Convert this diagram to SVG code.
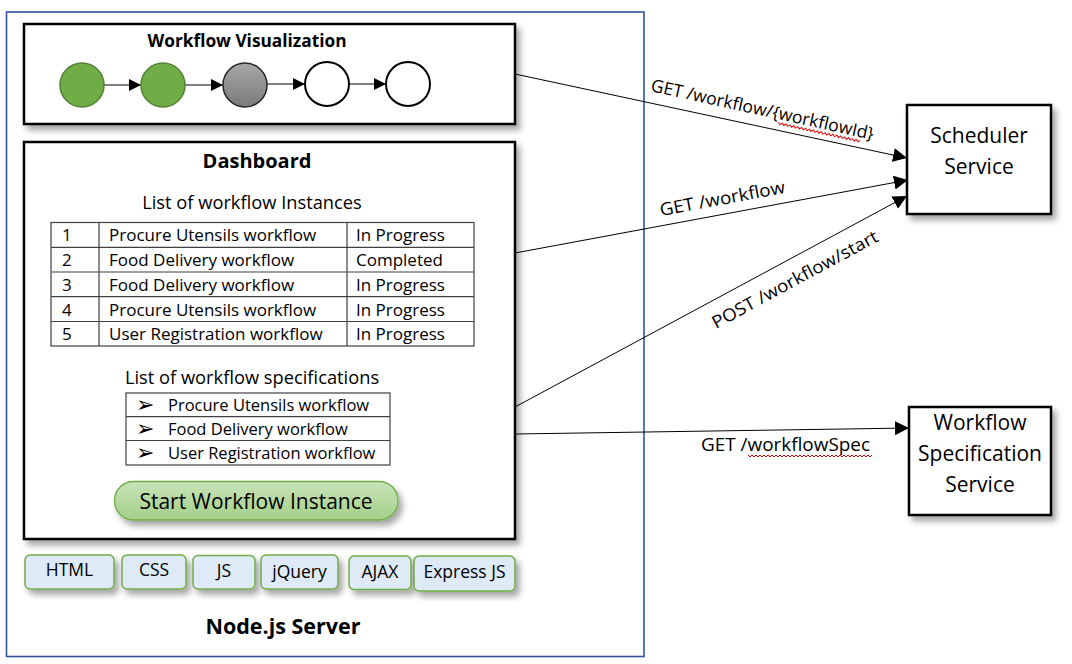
<svg xmlns="http://www.w3.org/2000/svg" width="1072" height="664" viewBox="0 0 1072 664">
<style>
text{font-family:"Open Sans","Liberation Sans",sans-serif;fill:#000}
.b{font-weight:bold}
.box{fill:#fff;stroke:#000;stroke-width:2.5}
.tbl{fill:none;stroke:#404040;stroke-width:1.2}
.t16{font-size:17px}
.lbl{font-size:17.5px}
.tech{fill:#DEEBF7;stroke:#70AD47;stroke-width:1.5}
.conn{stroke:#000;stroke-width:1;fill:none}
.wave{fill:none;stroke:#E00000;stroke-width:1}
.bul{font-family:"DejaVu Sans",sans-serif;font-size:22px}
</style>
<defs>
<filter id="sh" x="-10%" y="-10%" width="130%" height="140%">
<feDropShadow dx="4" dy="5" stdDeviation="3" flood-color="#000" flood-opacity="0.35"/>
</filter>
<linearGradient id="grey" x1="0" y1="0" x2="0" y2="1">
<stop offset="0" stop-color="#A8A8A8"/><stop offset="1" stop-color="#7A7A7A"/>
</linearGradient>
<linearGradient id="btn" x1="0" y1="0" x2="0" y2="1">
<stop offset="0" stop-color="#C9E3B8"/><stop offset="1" stop-color="#A3CF88"/>
</linearGradient>
<marker id="ah" viewBox="0 0 10 10" refX="10" refY="5" markerWidth="14" markerHeight="14" markerUnits="userSpaceOnUse" orient="auto">
<path d="M0,0 L10,5 L0,10 z" fill="#000"/>
</marker>
<marker id="ahs" viewBox="0 0 10 10" refX="10" refY="5" markerWidth="12" markerHeight="12" markerUnits="userSpaceOnUse" orient="auto">
<path d="M0,0 L10,5 L0,10 z" fill="#000"/>
</marker>
</defs>
<rect width="1072" height="664" fill="#fff"/>

<g id="nodejs-server">
<rect x="6.5" y="12" width="637.5" height="644.5" fill="none" stroke="#2F5597" stroke-width="1.6"/>
<text x="283" y="634" text-anchor="middle" class="b" font-size="21.5">Node.js Server</text>
</g>

<g id="workflow-visualization">
<rect class="box" x="24" y="24" width="491" height="100" filter="url(#sh)"/>
<text x="247" y="47" text-anchor="middle" class="b" font-size="17.3">Workflow Visualization</text>
<g stroke="#000" stroke-width="1">
<line x1="104" y1="85" x2="141" y2="85" marker-end="url(#ahs)"/>
<line x1="185" y1="85" x2="223" y2="85" marker-end="url(#ahs)"/>
<line x1="267" y1="84" x2="305" y2="84" marker-end="url(#ahs)"/>
<line x1="349" y1="84" x2="386" y2="84" marker-end="url(#ahs)"/>
</g>
<circle cx="82" cy="85" r="22" fill="#70AD47" stroke="#548235" stroke-width="1.5"/>
<circle cx="163" cy="85" r="22" fill="#70AD47" stroke="#548235" stroke-width="1.5"/>
<circle cx="245" cy="85" r="22" fill="url(#grey)" stroke="#262626" stroke-width="1.5"/>
<circle cx="327" cy="84" r="22" fill="#fff" stroke="#000" stroke-width="2"/>
<circle cx="408" cy="84" r="22" fill="#fff" stroke="#000" stroke-width="2"/>
</g>

<g id="dashboard">
<rect class="box" x="24" y="142" width="491" height="397" filter="url(#sh)"/>
<text x="257" y="168" text-anchor="middle" class="b" font-size="20">Dashboard</text>
<text x="252" y="209" text-anchor="middle" font-size="18.3">List of workflow Instances</text>
<g id="instances-table">
<rect class="tbl" x="51" y="222.5" width="423" height="123.5"/>
<line class="tbl" x1="51" y1="247.3" x2="474" y2="247.3"/>
<line class="tbl" x1="51" y1="272" x2="474" y2="272"/>
<line class="tbl" x1="51" y1="296.7" x2="474" y2="296.7"/>
<line class="tbl" x1="51" y1="321.5" x2="474" y2="321.5"/>
<line class="tbl" x1="99" y1="222.5" x2="99" y2="346"/>
<line class="tbl" x1="347" y1="222.5" x2="347" y2="346"/>
<g class="t16">
<text x="62" y="241">1</text><text x="109" y="241">Procure Utensils workflow</text><text x="356" y="241">In Progress</text>
<text x="62" y="266">2</text><text x="109" y="266">Food Delivery workflow</text><text x="356" y="266">Completed</text>
<text x="62" y="290.5">3</text><text x="109" y="290.5">Food Delivery workflow</text><text x="356" y="290.5">In Progress</text>
<text x="62" y="315.5">4</text><text x="109" y="315.5">Procure Utensils workflow</text><text x="356" y="315.5">In Progress</text>
<text x="62" y="340">5</text><text x="109" y="340">User Registration workflow</text><text x="356" y="340">In Progress</text>
</g>
</g>
<text x="252" y="384" text-anchor="middle" font-size="18.3">List of workflow specifications</text>
<g id="specs-list">
<rect class="tbl" x="126" y="393" width="264" height="72"/>
<line class="tbl" x1="126" y1="416.7" x2="390" y2="416.7"/>
<line class="tbl" x1="126" y1="440.5" x2="390" y2="440.5"/>
<g font-size="16.5">
<text x="136" y="412" class="bul">➢</text><text x="168" y="411">Procure Utensils workflow</text>
<text x="136" y="436" class="bul">➢</text><text x="168" y="435">Food Delivery workflow</text>
<text x="136" y="460" class="bul">➢</text><text x="168" y="459">User Registration workflow</text>
</g>
</g>
<g id="start-button">
<rect x="114.5" y="481.5" width="283.5" height="38.5" rx="19" fill="url(#btn)" stroke="#70AD47" stroke-width="1.3" filter="url(#sh)"/>
<text x="256" y="509" text-anchor="middle" font-size="21">Start Workflow Instance</text>
</g>
</g>

<g id="tech-stack" font-size="17.5">
<g id="tech-html"><rect class="tech" x="25" y="555" width="89" height="34" rx="5" filter="url(#sh)"/><text x="69.5" y="576" text-anchor="middle">HTML</text></g>
<g id="tech-css"><rect class="tech" x="122" y="555" width="64" height="34" rx="5" filter="url(#sh)"/><text x="154" y="576" text-anchor="middle">CSS</text></g>
<g id="tech-js"><rect class="tech" x="193" y="555.5" width="62" height="33.5" rx="5" filter="url(#sh)"/><text x="224" y="577" text-anchor="middle">JS</text></g>
<g id="tech-jquery"><rect class="tech" x="261" y="555" width="77" height="34" rx="5" filter="url(#sh)"/><text x="299.5" y="578" text-anchor="middle">jQuery</text></g>
<g id="tech-ajax"><rect class="tech" x="349" y="556" width="62" height="33.5" rx="5" filter="url(#sh)"/><text x="380" y="578" text-anchor="middle">AJAX</text></g>
<g id="tech-express"><rect class="tech" x="414" y="556" width="101" height="35" rx="5" filter="url(#sh)"/><text x="464.5" y="578" text-anchor="middle">Express  JS</text></g>
</g>

<g id="scheduler-service">
<rect class="box" x="907" y="105" width="144" height="109" filter="url(#sh)"/>
<text x="979" y="143" text-anchor="middle" font-size="21">Scheduler</text>
<text x="979" y="174" text-anchor="middle" font-size="21">Service</text>
</g>

<g id="workflow-spec-service">
<rect class="box" x="909" y="407" width="142" height="108" filter="url(#sh)"/>
<text x="980" y="430" text-anchor="middle" font-size="21">Workflow</text>
<text x="980" y="461" text-anchor="middle" font-size="21">Specification</text>
<text x="980" y="492" text-anchor="middle" font-size="21">Service</text>
</g>

<g id="connectors">
<line class="conn" x1="515" y1="74" x2="907" y2="158" marker-end="url(#ah)"/>
<line class="conn" x1="515" y1="253" x2="908" y2="180" marker-end="url(#ah)"/>
<line class="conn" x1="515" y1="407" x2="907" y2="196" marker-end="url(#ah)"/>
<line class="conn" x1="515" y1="434" x2="909" y2="428" marker-end="url(#ah)"/>
<g transform="translate(650,91) rotate(12.4)">
<text x="0" y="0" class="lbl">GET /workflow/{workflowId}</text>
<path class="wave" d="M132,3 l2,2 l2,-2 l2,2 l2,-2 l2,2 l2,-2 l2,2 l2,-2 l2,2 l2,-2 l2,2 l2,-2 l2,2 l2,-2 l2,2 l2,-2 l2,2 l2,-2 l2,2 l2,-2 l2,2 l2,-2 l2,2 l2,-2 l2,2 l2,-2 l2,2 l2,-2 l2,2 l2,-2 l2,2 l2,-2 l2,2 l2,-2 l2,2 l2,-2 l2,2 l2,-2 l2,2 l2,-2 l2,2 l2,-2"/>
</g>
<text transform="translate(661,216) rotate(-10.5)" class="lbl" textLength="127" lengthAdjust="spacingAndGlyphs">GET /workflow</text>
<text transform="translate(716,329) rotate(-28.4)" class="lbl" textLength="186" lengthAdjust="spacingAndGlyphs">POST /workflow/start</text>
<text x="701" y="451" class="lbl" textLength="169" lengthAdjust="spacingAndGlyphs">GET /workflowSpec</text>
<path class="wave" d="M748,455 l2,2 l2,-2 l2,2 l2,-2 l2,2 l2,-2 l2,2 l2,-2 l2,2 l2,-2 l2,2 l2,-2 l2,2 l2,-2 l2,2 l2,-2 l2,2 l2,-2 l2,2 l2,-2 l2,2 l2,-2 l2,2 l2,-2 l2,2 l2,-2 l2,2 l2,-2 l2,2 l2,-2 l2,2 l2,-2 l2,2 l2,-2 l2,2 l2,-2 l2,2 l2,-2 l2,2 l2,-2 l2,2 l2,-2 l2,2 l2,-2 l2,2 l2,-2 l2,2 l2,-2 l2,2 l2,-2 l2,2 l2,-2 l2,2 l2,-2 l2,2 l2,-2 l2,2 l2,-2 l2,2 l2,-2 l2,2 l2,-2"/>
</g>
</svg>
